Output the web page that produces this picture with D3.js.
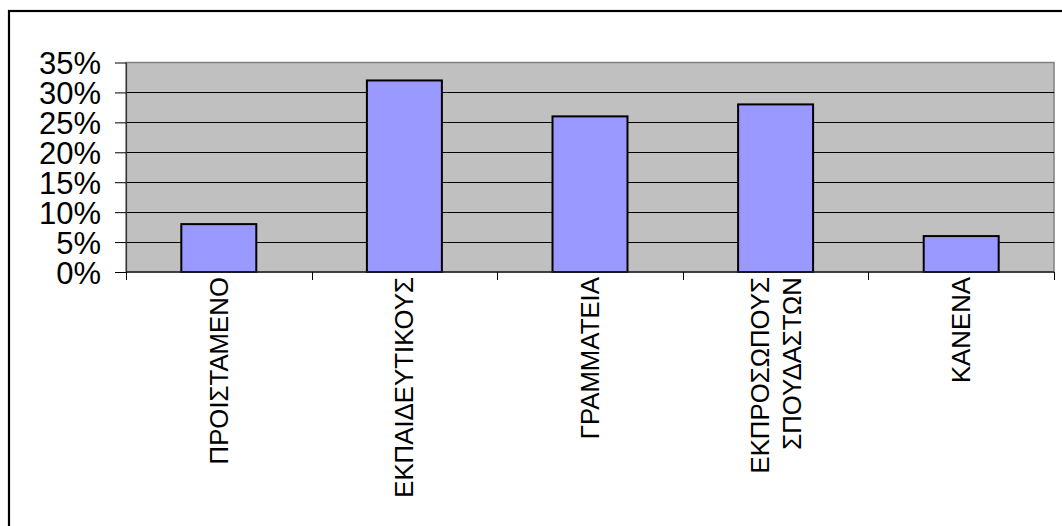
<!DOCTYPE html>
<html>
<head>
<meta charset="utf-8">
<script src="https://cdn.jsdelivr.net/npm/d3@7"></script>
<style>
  html, body { margin: 0; padding: 0; background: #fff; }
  svg { display: block; }
  text { font-family: "Liberation Sans", Arial, sans-serif; fill: #000; }
</style>
</head>
<body>
<svg id="chart" width="1062" height="526"></svg>
<script>
const categories = [
  ["ΠΡΟΙΣΤΑΜΕΝΟ"],
  ["ΕΚΠΑΙΔΕΥΤΙΚΟΥΣ"],
  ["ΓΡΑΜΜΑΤΕΙΑ"],
  ["ΕΚΠΡΟΣΩΠΟΥΣ", "ΣΠΟΥΔΑΣΤΩΝ"],
  ["ΚΑΝΕΝΑ"]
];
const values = [0.08, 0.32, 0.26, 0.28, 0.06];
const yTicks = [0, 0.05, 0.10, 0.15, 0.20, 0.25, 0.30, 0.35];

const svg = d3.select("#chart");
const W = 1062, H = 526;
const plot = { left: 126, right: 1054, top: 62.5, bottom: 272 };

// outer frame (right/bottom edges fall outside the window)
svg.append("rect")
  .attr("x", 9).attr("y", 11)
  .attr("width", W + 20).attr("height", H + 20)
  .attr("fill", "#fff").attr("stroke", "#000").attr("stroke-width", 2.2);

const keys = categories.map(c => c.join(" "));
const x = d3.scaleBand()
  .domain(keys)
  .range([plot.left, plot.right])
  .paddingInner(0.596)
  .paddingOuter(0.298);

const y = d3.scaleLinear()
  .domain([0, 0.35])
  .range([plot.bottom, plot.top]);

// plot background
svg.append("rect")
  .attr("x", plot.left).attr("y", plot.top)
  .attr("width", plot.right - plot.left).attr("height", plot.bottom - plot.top)
  .attr("fill", "#C0C0C0").attr("stroke", "#808080").attr("stroke-width", 1.5);

// gridlines
svg.append("g")
  .selectAll("line")
  .data(yTicks.filter(t => t > 0 && t < 0.35))
  .join("line")
  .attr("x1", plot.left).attr("x2", plot.right)
  .attr("y1", d => Math.round(y(d)) + 0.5).attr("y2", d => Math.round(y(d)) + 0.5)
  .attr("stroke", "#000").attr("stroke-width", 1);

// bars
svg.append("g")
  .selectAll("rect")
  .data(values)
  .join("rect")
  .attr("x", (d, i) => x(keys[i]))
  .attr("width", x.bandwidth())
  .attr("y", d => y(d))
  .attr("height", d => y(0) - y(d))
  .attr("fill", "#9999FF")
  .attr("stroke", "#000")
  .attr("stroke-width", 2);

// y axis
const yAxis = d3.axisLeft(y)
  .tickValues(yTicks)
  .tickFormat(d3.format(".0%"))
  .tickSizeInner(11)
  .tickSizeOuter(0)
  .tickPadding(14);
const gy = svg.append("g")
  .attr("transform", `translate(${plot.left},0)`)
  .call(yAxis);
gy.select(".domain").attr("stroke", "#333").attr("stroke-width", 1.2);
gy.selectAll(".tick line").attr("stroke", "#000");
gy.selectAll(".tick text")
  .attr("font-size", 31)
  .attr("font-family", "'Liberation Sans', Arial, sans-serif")
  .attr("fill", "#000")
  .attr("dy", "0.36em");

// x axis: ticks at category boundaries
const step = x.step();
const boundaries = d3.range(keys.length + 1).map(i => plot.left + i * step);
svg.append("line")
  .attr("x1", plot.left).attr("x2", plot.right)
  .attr("y1", plot.bottom).attr("y2", plot.bottom)
  .attr("stroke", "#222").attr("stroke-width", 1.4);
svg.append("g")
  .selectAll("line")
  .data(boundaries)
  .join("line")
  .attr("x1", d => Math.round(d) + 0.5).attr("x2", d => Math.round(d) + 0.5)
  .attr("y1", plot.bottom).attr("y2", plot.bottom + 8)
  .attr("stroke", "#000").attr("stroke-width", 1);

// category labels, rotated
const lineGap = 32;
const labels = svg.append("g");
categories.forEach((lines, i) => {
  const cx = x(keys[i]) + x.bandwidth() / 2;
  const n = lines.length;
  lines.forEach((txt, j) => {
    const off = (j - (n - 1) / 2) * lineGap;
    const lx = cx + off;
    const ly = plot.bottom + 5;
    labels.append("text")
      .attr("transform", `translate(${lx},${ly}) rotate(-90)`)
      .attr("text-anchor", "end")
      .attr("dy", "0.35em")
      .attr("font-size", 25.8)
      .text(txt);
  });
});
</script>
</body>
</html>
